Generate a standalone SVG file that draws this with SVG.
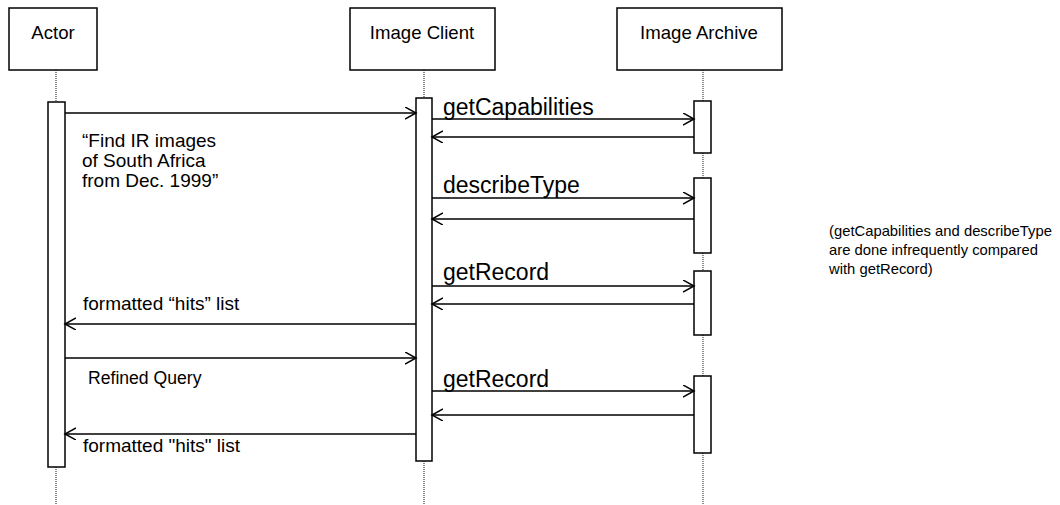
<svg xmlns="http://www.w3.org/2000/svg" width="1060" height="505" viewBox="0 0 1060 505">
<style>
.box{fill:#fff;stroke:#000;stroke-width:1.5}
.act{fill:#fff;stroke:#000;stroke-width:1.5}
.life{stroke:#666;stroke-width:1.5;stroke-dasharray:1 1;fill:none}
.msg{stroke:#000;stroke-width:1.5;fill:none;marker-end:url(#open)}
text{font-family:"Liberation Sans",Arial,sans-serif;fill:#000}
.lbl{font-size:18.6px;text-anchor:middle}
.call{font-size:23px}
.note{font-size:19px}
.side{font-size:14.8px}
</style>
<defs>
<marker id="open" markerUnits="userSpaceOnUse" markerWidth="14" markerHeight="14" refX="11" refY="6" orient="auto">
<path d="M0,0 L11,6 L0,12" fill="none" stroke="#000" stroke-width="1.5"/>
</marker>
</defs>
<rect width="1060" height="505" fill="#fff"/>
<g id="lifelines">
<line class="life" x1="56" y1="70" x2="56" y2="102"/>
<line class="life" x1="56" y1="467" x2="56" y2="505"/>
<line class="life" x1="424" y1="70" x2="424" y2="98"/>
<line class="life" x1="424" y1="461" x2="424" y2="505"/>
<line class="life" x1="703" y1="70" x2="703" y2="101"/>
<line class="life" x1="703" y1="153" x2="703" y2="178"/>
<line class="life" x1="703" y1="253" x2="703" y2="271"/>
<line class="life" x1="703" y1="335" x2="703" y2="376"/>
<line class="life" x1="703" y1="453" x2="703" y2="505"/>
</g>
<g id="actor">
<rect class="box" x="9" y="8" width="88" height="62"/>
<text class="lbl" x="53" y="39">Actor</text>
<rect class="act" x="48" y="102" width="17" height="365"/>
</g>
<g id="image-client">
<rect class="box" x="350" y="8" width="145" height="62"/>
<text class="lbl" x="422" y="39">Image Client</text>
<rect class="act" x="416" y="98" width="16" height="363"/>
</g>
<g id="image-archive">
<rect class="box" x="617" y="8" width="165" height="62"/>
<text class="lbl" x="699" y="39">Image Archive</text>
<rect class="act" x="694" y="101" width="17" height="52"/>
<rect class="act" x="694" y="178" width="17" height="75"/>
<rect class="act" x="694" y="271" width="17" height="64"/>
<rect class="act" x="694" y="376" width="17" height="77"/>
</g>
<g id="connectors">
<line class="msg" x1="65" y1="113" x2="416" y2="113"/>
<line class="msg" x1="432" y1="119" x2="694" y2="119"/>
<line class="msg" x1="694" y1="137" x2="432" y2="137"/>
<line class="msg" x1="432" y1="198" x2="694" y2="198"/>
<line class="msg" x1="694" y1="219" x2="432" y2="219"/>
<line class="msg" x1="432" y1="286" x2="694" y2="286"/>
<line class="msg" x1="694" y1="304" x2="432" y2="304"/>
<line class="msg" x1="416" y1="324" x2="65" y2="324"/>
<line class="msg" x1="65" y1="358" x2="416" y2="358"/>
<line class="msg" x1="432" y1="391" x2="694" y2="391"/>
<line class="msg" x1="694" y1="415" x2="432" y2="415"/>
<line class="msg" x1="416" y1="434" x2="65" y2="434"/>
</g>
<g id="labels">
<text class="call" x="443" y="115">getCapabilities</text>
<text class="call" x="443" y="193">describeType</text>
<text class="call" x="443" y="280">getRecord</text>
<text class="call" x="443" y="387">getRecord</text>
<text class="note" x="82" y="147">“Find IR images</text>
<text class="note" x="82" y="167">of South Africa</text>
<text class="note" x="82" y="187">from Dec. 1999”</text>
<text class="note" x="83" y="310">formatted “hits” list</text>
<text class="note" x="88" y="384" style="font-size:17.6px">Refined Query</text>
<text class="note" x="83" y="452">formatted "hits" list</text>
<text class="side" x="829" y="236">(getCapabilities and describeType</text>
<text class="side" x="829" y="255">are done infrequently compared</text>
<text class="side" x="829" y="274">with getRecord)</text>
</g>
</svg>
